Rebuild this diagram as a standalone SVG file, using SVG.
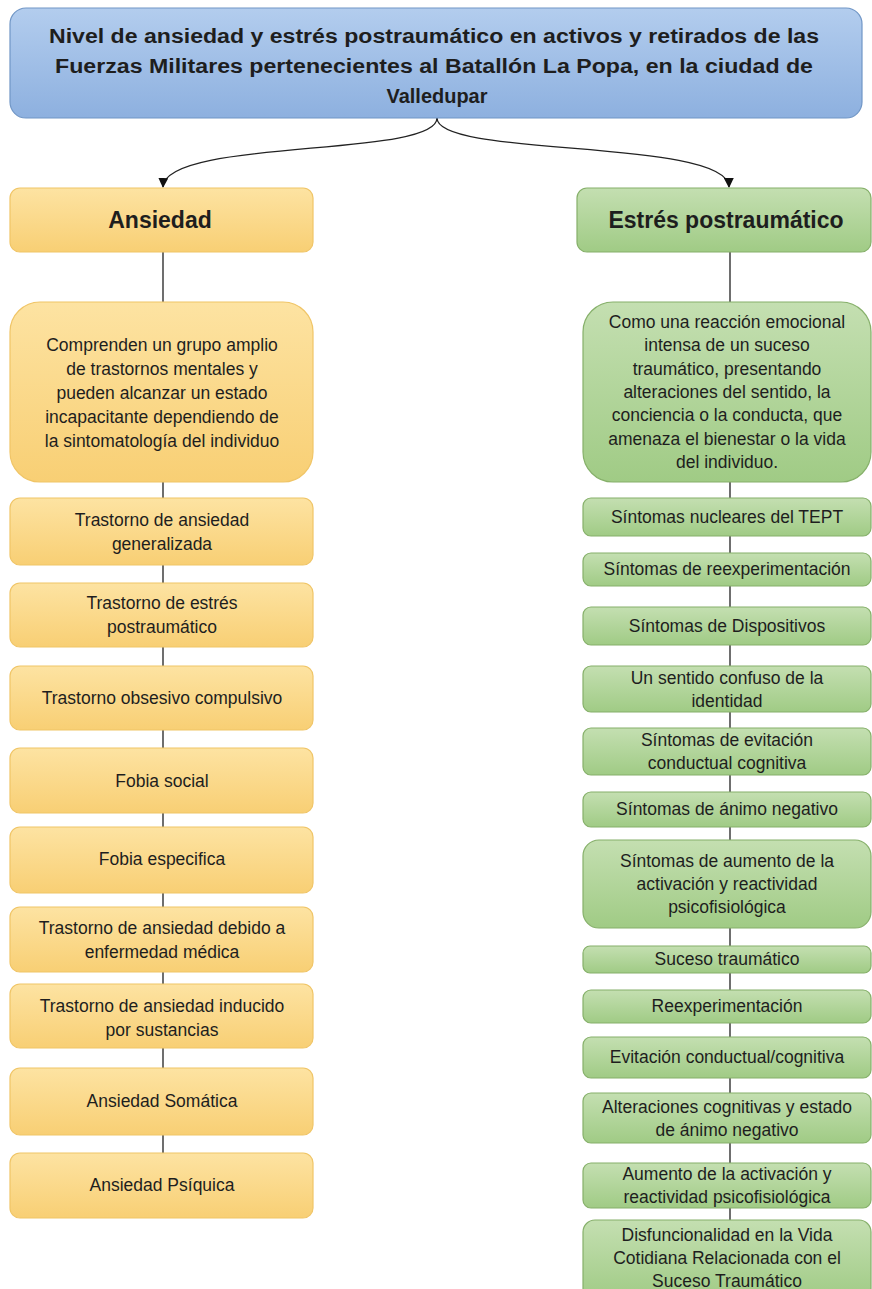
<svg xmlns="http://www.w3.org/2000/svg" width="872" height="1289" viewBox="0 0 872 1289">
<defs>
<linearGradient id="gBlue" x1="0" y1="0" x2="0" y2="1"><stop offset="0" stop-color="#b3cdee"/><stop offset="1" stop-color="#8db0df"/></linearGradient>
<linearGradient id="gOr" x1="0" y1="0" x2="0" y2="1"><stop offset="0" stop-color="#fde3a2"/><stop offset="1" stop-color="#f8cf74"/></linearGradient>
<linearGradient id="gGr" x1="0" y1="0" x2="0" y2="1"><stop offset="0" stop-color="#c4dfb1"/><stop offset="1" stop-color="#a0cb85"/></linearGradient>
<marker id="arr" viewBox="0 0 10 10" refX="9" refY="5" markerWidth="10" markerHeight="10" markerUnits="userSpaceOnUse" orient="auto"><path d="M0,0 L10,5 L0,10 z" fill="#111"/></marker>
</defs>
<style>
.t{font-family:"Liberation Sans",Arial,sans-serif;fill:#1e1e1e;text-anchor:middle;dominant-baseline:central}
.s{font-size:17.5px}
.b{font-weight:bold}
.blue{fill:url(#gBlue);stroke:#7096c6;stroke-width:1.2}
.or{fill:url(#gOr);stroke:#f0c567;stroke-width:1.2}
.gr{fill:url(#gGr);stroke:#86b06a;stroke-width:1.2}
.c{stroke:#222;stroke-width:1.3;fill:none}
</style>
<rect width="872" height="1289" fill="#ffffff"/>

<g id="connectors">
<path class="c" d="M437,118 C437,158 165,138 163,187" marker-end="url(#arr)"/>
<path class="c" d="M437,118 C437,158 728,138 729,187" marker-end="url(#arr)"/>
<path class="c" d="M163,252 V302 M163,482 V498 M163,565 V583 M163,647 V666 M163,730 V748 M163,813 V827 M163,893 V907 M163,972 V984 M163,1048 V1068 M163,1135 V1153"/>
<path class="c" d="M730,252 V302 M730,482 V498 M730,536 V553 M730,586 V607 M730,645 V666 M730,712 V728 M730,775 V792 M730,827 V840 M730,928 V946 M730,973 V990 M730,1023 V1037 M730,1078 V1093 M730,1143 V1163 M730,1208 V1220"/>
</g>

<g id="title">
<rect class="blue" x="10" y="8" width="852" height="110" rx="16"/>
<text class="t b" font-size="20" x="434" y="36" textLength="770" lengthAdjust="spacingAndGlyphs">Nivel de ansiedad y estrés postraumático en activos y retirados de las</text>
<text class="t b" font-size="20" x="434" y="66" textLength="758" lengthAdjust="spacingAndGlyphs">Fuerzas Militares pertenecientes al Batallón La Popa, en la ciudad de</text>
<text class="t b" font-size="20" x="437" y="96" textLength="101" lengthAdjust="spacingAndGlyphs">Valledupar</text>
</g>

<g id="ansiedad">
<rect class="or" x="10" y="188" width="303" height="64" rx="10"/>
<text class="t b" font-size="23" x="160" y="220">Ansiedad</text>
</g>
<g id="estres">
<rect class="gr" x="577" y="188" width="294" height="64" rx="10"/>
<text class="t b" font-size="23" x="726" y="220">Estrés postraumático</text>
</g>

<g id="a-def">
<rect class="or" x="10" y="302" width="303" height="180" rx="30"/>
<text class="t s" x="162" y="345">Comprenden un grupo amplio</text>
<text class="t s" x="162" y="369">de trastornos mentales y</text>
<text class="t s" x="162" y="393">pueden alcanzar un estado</text>
<text class="t s" x="162" y="417">incapacitante dependiendo de</text>
<text class="t s" x="162" y="441">la sintomatología del individuo</text>
</g>
<g id="a1"><rect class="or" x="10" y="498" width="303" height="67" rx="10"/>
<text class="t s" x="162" y="520">Trastorno de ansiedad</text><text class="t s" x="162" y="544">generalizada</text></g>
<g id="a2"><rect class="or" x="10" y="583" width="303" height="64" rx="10"/>
<text class="t s" x="162" y="603">Trastorno de estrés</text><text class="t s" x="162" y="627">postraumático</text></g>
<g id="a3"><rect class="or" x="10" y="666" width="303" height="64" rx="10"/>
<text class="t s" x="162" y="698">Trastorno obsesivo  compulsivo</text></g>
<g id="a4"><rect class="or" x="10" y="748" width="303" height="65" rx="10"/>
<text class="t s" x="162" y="781">Fobia social</text></g>
<g id="a5"><rect class="or" x="10" y="827" width="303" height="66" rx="10"/>
<text class="t s" x="162" y="859">Fobia especifica</text></g>
<g id="a6"><rect class="or" x="10" y="907" width="303" height="65" rx="10"/>
<text class="t s" x="162" y="928">Trastorno de ansiedad debido a</text><text class="t s" x="162" y="952">enfermedad médica</text></g>
<g id="a7"><rect class="or" x="10" y="984" width="303" height="64" rx="10"/>
<text class="t s" x="162" y="1006">Trastorno de ansiedad inducido</text><text class="t s" x="162" y="1030">por sustancias</text></g>
<g id="a8"><rect class="or" x="10" y="1068" width="303" height="67" rx="10"/>
<text class="t s" x="162" y="1101">Ansiedad Somática</text></g>
<g id="a9"><rect class="or" x="10" y="1153" width="303" height="65" rx="10"/>
<text class="t s" x="162" y="1185">Ansiedad Psíquica</text></g>

<g id="e-def">
<rect class="gr" x="583" y="302" width="288" height="180" rx="30"/>
<text class="t s" x="727" y="322">Como una reacción emocional</text>
<text class="t s" x="727" y="345">intensa de un suceso</text>
<text class="t s" x="727" y="369">traumático, presentando</text>
<text class="t s" x="727" y="392">alteraciones del sentido, la</text>
<text class="t s" x="727" y="415">conciencia o la conducta, que</text>
<text class="t s" x="727" y="439">amenaza el bienestar o la vida</text>
<text class="t s" x="727" y="462">del individuo.</text>
</g>
<g id="e1"><rect class="gr" x="583" y="498" width="288" height="38" rx="8"/>
<text class="t s" x="727" y="517">Síntomas nucleares del TEPT</text></g>
<g id="e2"><rect class="gr" x="583" y="553" width="288" height="33" rx="8"/>
<text class="t s" x="727" y="569">Síntomas de reexperimentación</text></g>
<g id="e3"><rect class="gr" x="583" y="607" width="288" height="38" rx="8"/>
<text class="t s" x="727" y="626">Síntomas de Dispositivos</text></g>
<g id="e4"><rect class="gr" x="583" y="666" width="288" height="46" rx="8"/>
<text class="t s" x="727" y="678">Un sentido confuso de la</text><text class="t s" x="727" y="701">identidad</text></g>
<g id="e5"><rect class="gr" x="583" y="728" width="288" height="47" rx="8"/>
<text class="t s" x="727" y="740">Síntomas de evitación</text><text class="t s" x="727" y="763">conductual cognitiva</text></g>
<g id="e6"><rect class="gr" x="583" y="792" width="288" height="35" rx="8"/>
<text class="t s" x="727" y="809">Síntomas de ánimo negativo</text></g>
<g id="e7"><rect class="gr" x="583" y="840" width="288" height="88" rx="16"/>
<text class="t s" x="727" y="861">Síntomas de aumento de la</text><text class="t s" x="727" y="884">activación y reactividad</text><text class="t s" x="727" y="907">psicofisiológica</text></g>
<g id="e8"><rect class="gr" x="583" y="946" width="288" height="27" rx="7"/>
<text class="t s" x="727" y="959">Suceso traumático</text></g>
<g id="e9"><rect class="gr" x="583" y="990" width="288" height="33" rx="8"/>
<text class="t s" x="727" y="1006">Reexperimentación</text></g>
<g id="e10"><rect class="gr" x="583" y="1037" width="288" height="41" rx="8"/>
<text class="t s" x="727" y="1057">Evitación conductual/cognitiva</text></g>
<g id="e11"><rect class="gr" x="583" y="1093" width="288" height="50" rx="8"/>
<text class="t s" x="727" y="1107">Alteraciones cognitivas y estado</text><text class="t s" x="727" y="1130">de ánimo negativo</text></g>
<g id="e12"><rect class="gr" x="583" y="1163" width="288" height="45" rx="8"/>
<text class="t s" x="727" y="1174">Aumento de la activación y</text><text class="t s" x="727" y="1197">reactividad psicofisiológica</text></g>
<g id="e13"><rect class="gr" x="583" y="1220" width="288" height="80" rx="12"/>
<text class="t s" x="727" y="1235">Disfuncionalidad  en la Vida</text><text class="t s" x="727" y="1258">Cotidiana Relacionada con el</text><text class="t s" x="727" y="1281">Suceso Traumático</text></g>
</svg>
